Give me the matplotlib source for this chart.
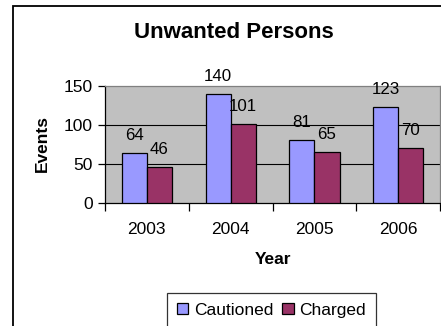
import matplotlib
matplotlib.use("Agg")
import matplotlib.pyplot as plt
from matplotlib.patches import Rectangle
import numpy as np

plt.rcParams['font.family'] = ['Liberation Sans', 'DejaVu Sans']

years = ["2003", "2004", "2005", "2006"]
cautioned = [64, 140, 81, 123]
charged = [46, 101, 65, 70]
series_names = ["Cautioned", "Charged"]
y_ticks = [0, 50, 100, 150]

W, H = 441, 326
fig = plt.figure(figsize=(W / 100, H / 100), dpi=100)
fig.patch.set_facecolor("white")

# chart frame (right and bottom edges run off the canvas)
fig.patches.append(Rectangle((12.5 / W, -0.2), 1.2, 1.2 - 5.5 / H,
                             transform=fig.transFigure, fill=False,
                             edgecolor="black", linewidth=1.3, zorder=0))

ax = fig.add_axes([105 / W, 1 - 203 / H, 335 / W, 117 / H])
ax.set_facecolor("#C0C0C0")

x = np.arange(len(years))
bw = 0.3
b1 = ax.bar(x - bw / 2, cautioned, bw, color="#9999FF", edgecolor="black",
            linewidth=0.9, label=series_names[0], zorder=3)
b2 = ax.bar(x + bw / 2, charged, bw, color="#993366", edgecolor="black",
            linewidth=0.9, label=series_names[1], zorder=3)

for bars, vals in ((b1, cautioned), (b2, charged)):
    for rect, v in zip(bars, vals):
        ax.annotate(str(v), (rect.get_x() + rect.get_width() / 2, v),
                    xytext=(0, 9.5), textcoords="offset points",
                    ha="center", va="baseline", fontsize=12.2, zorder=5,
                    annotation_clip=False)

ax.set_xlim(-0.5, len(years) - 0.5)
ax.set_ylim(0, 150)
ax.set_yticks(y_ticks)
ax.set_yticklabels([str(t) for t in y_ticks], fontsize=12.5)
ax.set_xticks(x)
ax.set_xticklabels(years, fontsize=12.5)
ax.set_xticks(np.arange(-0.5, len(years), 1.0), minor=True)
ax.tick_params(axis="x", which="major", length=0, pad=14)
ax.tick_params(axis="x", which="minor", length=5.5, width=0.9, direction="out")
ax.tick_params(axis="y", length=5, width=0.9, pad=4)

for v in (50, 100):
    ax.axhline(v, color="black", linewidth=0.8, zorder=1)

for s in ("left", "bottom"):
    ax.spines[s].set_color("black")
    ax.spines[s].set_linewidth(0.9)
for s in ("top", "right"):
    ax.spines[s].set_color("#808080")
    ax.spines[s].set_linewidth(0.9)

fig.text(234 / W, 1 - 32 / H, "Unwanted Persons", ha="center", va="center",
         fontsize=16, fontweight="bold")
fig.text(42 / W, 1 - 143.5 / H, "Events", ha="center", va="center",
         rotation=90, fontsize=12.5, fontweight="bold")
fig.text(273 / W, 1 - 259 / H, "Year", ha="center", va="center",
         fontsize=12.5, fontweight="bold")

leg = fig.legend(handles=[b1, b2], labels=series_names, ncol=2,
                 loc="upper center", bbox_to_anchor=(271.5 / W, 1 - 293 / H),
                 fontsize=12.5, frameon=True, fancybox=False,
                 handlelength=0.65, handleheight=0.65, handletextpad=0.35,
                 columnspacing=0.5, borderpad=0.55, borderaxespad=0)
leg.get_frame().set_edgecolor("black")
leg.get_frame().set_linewidth(0.9)

fig.savefig("out.png", dpi=100, facecolor="white")
